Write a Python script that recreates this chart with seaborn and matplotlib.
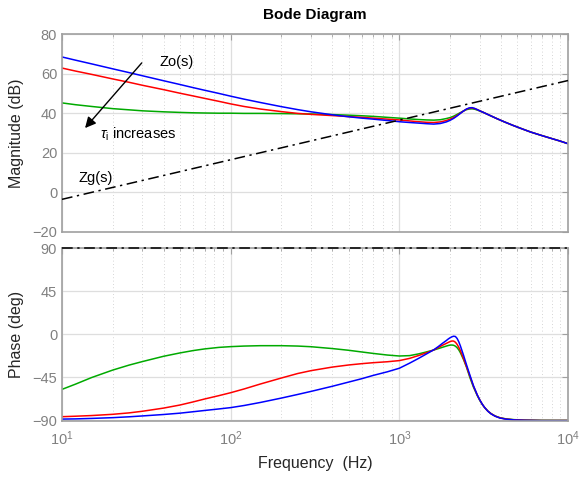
import numpy as np
import pandas as pd
import matplotlib
matplotlib.use("Agg")
import matplotlib.pyplot as plt
import seaborn as sns
from matplotlib.ticker import LogLocator, NullFormatter, FixedLocator

# ---------------- data ----------------
freq_mag = [10, 12, 15, 20, 25, 30, 40, 50, 60, 70, 85, 100, 120, 150, 200,
            250, 300, 400, 500, 600, 700, 850, 1000, 1150, 1300, 1450, 1600,
            1750, 1900, 2000, 2100, 2200, 2300, 2400, 2500, 2600, 2700, 2800,
            2900, 3000, 3150, 3300, 3500, 3800, 4200, 4700, 5300, 6000, 7000,
            8000, 9000, 10000]
mag_blue = [68.4, 66.8, 64.9, 62.4, 60.5, 58.9, 56.4, 54.5, 52.9, 51.6, 50.0,
            48.6, 47.1, 45.4, 43.3, 41.8, 40.7, 39.2, 38.2, 37.5, 37.0, 36.3,
            35.7, 35.3, 35.0, 34.7, 34.5, 34.8, 35.6, 36.4, 37.4, 38.6, 39.9,
            41.1, 42.1, 42.7, 42.8, 42.4, 41.8, 41.2, 40.4, 39.6, 38.6, 37.2,
            35.6, 33.9, 32.2, 30.5, 28.7, 27.2, 25.9, 24.6]
mag_red = [62.8, 61.3, 59.6, 57.3, 55.6, 54.1, 51.9, 50.1, 48.7, 47.5, 46.0,
           44.7, 43.4, 42.1, 40.8, 39.9, 39.4, 38.8, 38.3, 37.9, 37.5, 37.0,
           36.6, 36.1, 35.7, 35.4, 35.3, 35.6, 36.3, 37.0, 37.8, 38.9, 40.0,
           41.1, 42.0, 42.5, 42.6, 42.3, 41.8, 41.2, 40.4, 39.6, 38.6, 37.2,
           35.6, 33.9, 32.2, 30.5, 28.7, 27.2, 25.9, 24.6]
mag_green = [45.2, 44.3, 43.4, 42.3, 41.7, 41.2, 40.7, 40.4, 40.2, 40.1, 40.0,
             40.0, 39.9, 39.9, 39.8, 39.7, 39.6, 39.3, 39.0, 38.7, 38.4, 37.9,
             37.5, 37.1, 36.8, 36.6, 36.5, 36.7, 37.3, 37.8, 38.5, 39.4, 40.3,
             41.1, 41.8, 42.1, 42.2, 42.0, 41.6, 41.1, 40.4, 39.6, 38.6, 37.2,
             35.6, 33.9, 32.2, 30.5, 28.7, 27.2, 25.9, 24.6]

freq_zg = [10, 100, 1000, 10000]
mag_zg = [-3.5, 16.5, 36.5, 56.5]
phase_zg = [90, 90, 90, 90]

freq_ph = [10, 12, 15, 20, 25, 30, 40, 50, 60, 70, 85, 100, 120, 150, 200, 250,
           300, 400, 500, 600, 700, 850, 1000, 1150, 1300, 1450, 1600, 1700,
           1800, 1900, 1950, 2000, 2050, 2100, 2150, 2200, 2250, 2300, 2400,
           2500, 2620, 2750, 2900, 3000, 3100, 3200, 3350, 3500, 3700, 3950,
           4300, 4800, 5500, 7000, 10000]
ph_blue = [-89.0, -88.8, -88.3, -87.5, -86.6, -85.7, -84.2, -82.8, -81.3, -80.0,
           -78.4, -77.0, -74.8, -71.6, -67.0, -63.2, -60.0, -54.7, -50.3, -46.7,
           -43.3, -39.5, -35.8, -30.5, -25.5, -20.8, -16.5, -13.2, -9.8, -6.8,
           -5.2, -3.9, -2.9, -2.3, -2.6, -4.6, -8.0, -12.3, -22.0, -32.0, -43.0,
           -54.0, -63.8, -69.0, -73.3, -76.8, -80.8, -83.6, -86.0, -87.9, -89.1,
           -89.9, -90.3, -90.6, -90.6]
ph_red = [-86.5, -86.0, -85.3, -84.0, -82.5, -80.8, -77.5, -74.3, -71.0, -68.0,
          -64.5, -61.4, -57.5, -52.3, -46.0, -41.3, -38.3, -34.6, -32.4, -31.0,
          -30.0, -29.0, -27.8, -25.5, -22.5, -19.6, -16.7, -14.2, -11.8, -9.8,
          -8.8, -7.9, -7.3, -7.4, -8.6, -10.8, -13.8, -17.3, -25.5, -34.0, -44.0,
          -54.5, -64.0, -69.0, -73.4, -76.8, -80.7, -83.4, -85.9, -87.7, -89.0,
          -89.8, -90.2, -90.5, -90.5]
ph_green = [-57.9, -52.5, -45.5, -37.7, -32.5, -28.8, -23.3, -19.8, -17.3, -15.6,
            -14.0, -13.2, -12.6, -12.2, -12.2, -12.6, -13.3, -15.2, -17.0, -18.8,
            -20.3, -22.0, -23.0, -22.6, -20.8, -18.7, -16.7, -15.3, -13.9, -12.6,
            -12.0, -11.6, -11.5, -11.8, -12.7, -14.3, -16.5, -19.5, -26.5, -34.5,
            -45.5, -55.5, -64.5, -69.5, -73.5, -76.8, -80.6, -83.3, -85.8, -87.6,
            -88.8, -89.6, -90.0, -90.3, -90.4]

series_colors = {"blue": "#0000ff", "red": "#ff0000", "green": "#00aa00"}

mag_df = pd.concat([
    pd.DataFrame({"f": freq_mag, "v": mag_blue, "s": "blue"}),
    pd.DataFrame({"f": freq_mag, "v": mag_red, "s": "red"}),
    pd.DataFrame({"f": freq_mag, "v": mag_green, "s": "green"}),
], ignore_index=True)
ph_df = pd.concat([
    pd.DataFrame({"f": freq_ph, "v": ph_blue, "s": "blue"}),
    pd.DataFrame({"f": freq_ph, "v": ph_red, "s": "red"}),
    pd.DataFrame({"f": freq_ph, "v": ph_green, "s": "green"}),
], ignore_index=True)
zg_mag_df = pd.DataFrame({"f": freq_zg, "v": mag_zg})
zg_ph_df = pd.DataFrame({"f": freq_zg, "v": phase_zg})

# ---------------- style ----------------
sns.set_style("white")
plt.rcParams["font.family"] = ["Liberation Sans", "DejaVu Sans"]
plt.rcParams["mathtext.fontset"] = "custom"
plt.rcParams["mathtext.rm"] = "Liberation Sans"
plt.rcParams["mathtext.it"] = "Liberation Sans:italic"

W, H = 579, 479
fig = plt.figure(figsize=(W / 100, H / 100), dpi=100)

def rect(l, t, r, b):
    return [l / W, 1 - b / H, (r - l) / W, (b - t) / H]

ax1 = fig.add_axes(rect(62, 34, 568, 232))
ax2 = fig.add_axes(rect(62, 248, 568, 421))

tick_gray = "#808080"
label_col = "#262626"
spine_col = "#a0a0a0"
grid_col = "#dedede"

for ax, df, zdf in ((ax1, mag_df, zg_mag_df), (ax2, ph_df, zg_ph_df)):
    sns.lineplot(data=df, x="f", y="v", hue="s", palette=series_colors,
                 hue_order=["green", "red", "blue"], ax=ax, lw=1.1,
                 estimator=None, sort=False, legend=False)
    sns.lineplot(data=zdf, x="f", y="v", ax=ax, color="black", lw=1.1,
                 estimator=None, sort=False, legend=False)
    zl = ax.lines[-1]
    zl.set_dashes([7, 3, 1.5, 3])
    zl.set_zorder(4)
    zl.set_clip_on(False)
    ax.set_xscale("log")
    ax.set_xlim(10, 10000)
    ax.xaxis.set_minor_locator(LogLocator(base=10, subs=np.arange(2, 10)))
    ax.xaxis.set_minor_formatter(NullFormatter())
    ax.grid(True, which="major", color=grid_col, lw=0.9, ls="-")
    ax.grid(True, which="minor", axis="x", color="#c8c8c8", lw=0.6, ls=(0, (1, 3)))
    ax.tick_params(which="both", direction="in", top=True, right=True,
                   colors=spine_col, labelcolor=tick_gray, labelsize=10.5)
    ax.tick_params(which="major", length=4)
    ax.tick_params(which="minor", length=2.5)
    for sp in ax.spines.values():
        sp.set_color(spine_col)
        sp.set_linewidth(1.2)
    ax.set_xlabel("")
    ax.set_ylabel("")
    ax.set_axisbelow(True)

ax1.set_ylim(-20, 80)
ax1.yaxis.set_major_locator(FixedLocator([-20, 0, 20, 40, 60, 80]))
ax1.tick_params(labelbottom=False)

ax2.set_ylim(-91, 90)
ax2.yaxis.set_major_locator(FixedLocator([-90, -45, 0, 45, 90]))
ax2.tick_params(axis="x", pad=6)

ax1.set_ylabel("Magnitude (dB)", fontsize=11.5, color=label_col, labelpad=6)
ax2.set_ylabel("Phase (deg)", fontsize=11.5, color=label_col, labelpad=6)
ax2.set_xlabel("Frequency  (Hz)", fontsize=11.5, color=label_col, labelpad=6)
fig.text(315 / W, 1 - 15 / H, "Bode Diagram", ha="center", va="center",
         fontsize=11, fontweight="bold", color="black")

# annotations
ax1.annotate("", xy=(13.7, 32.5), xytext=(29.7, 65.4),
             arrowprops=dict(arrowstyle="-|>", color="black", lw=1.0,
                             mutation_scale=16, shrinkA=0, shrinkB=0))
ax1.text(38, 66, "Zo(s)", fontsize=10.5, ha="left", va="center", color="black")
ax1.text(16.8, 29.3, r"$\tau_{\rm i}$ increases", fontsize=10.5, ha="left",
         va="center", color="black")
ax1.text(12.6, 7.3, "Zg(s)", fontsize=10.5, ha="left", va="center", color="black")

fig.savefig("out.png", dpi=100)
